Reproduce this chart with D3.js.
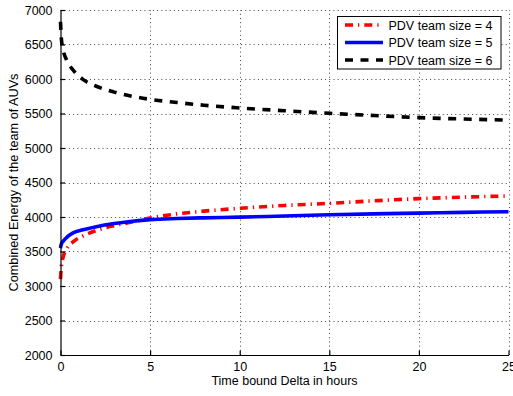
<!DOCTYPE html>
<html>
<head>
<meta charset="utf-8">
<script src="https://cdn.jsdelivr.net/npm/d3@7"></script>
<style>
  html, body { margin: 0; padding: 0; background: #fff; }
  svg { display: block; font-family: "Liberation Sans", Arial, Helvetica, sans-serif; }
</style>
</head>
<body>
<svg id="chart" width="513" height="396"></svg>
<script>
// Time bound (hours) at which each energy value was evaluated
const timeHours = [0, 0.05, 0.15, 0.35, 0.7, 1.25, 2, 3, 4, 5, 6.5, 8, 10, 12.5, 15, 17.5, 20, 22.5, 25];

// Combined energy of the AUV team for each PDV team size
const energySize4 = [3100, 3290, 3420, 3540, 3640, 3725, 3805, 3875, 3928, 3985, 4045, 4085, 4126, 4167, 4198, 4235, 4266, 4288, 4305];
const energySize5 = [3550, 3610, 3650, 3705, 3770, 3815, 3860, 3905, 3938, 3962, 3978, 3988, 3998, 4015, 4032, 4045, 4056, 4067, 4077];
const energySize6 = [6830, 6580, 6420, 6270, 6130, 5995, 5895, 5810, 5750, 5705, 5660, 5620, 5580, 5540, 5503, 5470, 5440, 5420, 5405];

const seriesNames = ["PDV team size = 4", "PDV team size = 5", "PDV team size = 6"];
const xTicks = [0, 5, 10, 15, 20, 25];
const yTicks = [2000, 2500, 3000, 3500, 4000, 4500, 5000, 5500, 6000, 6500, 7000];

const svg = d3.select("#chart");
const plotLeft = 60.5, plotRight = 508.5, plotTop = 10, plotBottom = 355;

const x = d3.scaleLinear().domain([0, 25]).range([plotLeft, plotRight]);
const y = d3.scaleLinear().domain([2000, 7000]).range([plotBottom, plotTop]);

// dotted grid
const grid = svg.append("g").attr("stroke", "#444").attr("stroke-width", 1)
  .attr("stroke-dasharray", "1,3.2").attr("fill", "none");
grid.selectAll("line.v").data(xTicks.filter(d => d > 0)).join("line")
  .attr("class", "v")
  .attr("x1", d => Math.round(x(d)) + 0.5).attr("x2", d => Math.round(x(d)) + 0.5)
  .attr("y1", plotBottom).attr("y2", plotTop);
grid.selectAll("line.h").data(yTicks.filter(d => d > 2000)).join("line")
  .attr("class", "h")
  .attr("x1", plotLeft).attr("x2", plotRight)
  .attr("y1", d => Math.round(y(d)) + 0.5).attr("y2", d => Math.round(y(d)) + 0.5);

// series
const series = [
  { name: seriesNames[0], values: energySize4, color: "#ff0000", dash: "8,5,1.3,5" },
  { name: seriesNames[1], values: energySize5, color: "#0000ff", dash: null },
  { name: seriesNames[2], values: energySize6, color: "#000000", dash: "8,7.5" }
];

const line = d3.line()
  .x((d, i) => x(timeHours[i]))
  .y(d => y(d))
  .curve(d3.curveMonotoneX);

const plot = svg.append("g");
series.forEach(s => {
  plot.append("path")
    .datum(s.values)
    .attr("d", line)
    .attr("fill", "none")
    .attr("stroke", s.color)
    .attr("stroke-width", 3.6)
    .attr("stroke-dasharray", s.dash);
});

// axes with inward ticks
const xAxis = d3.axisBottom(x).tickValues(xTicks).tickFormat(d3.format("d"))
  .tickSizeInner(-4.5).tickSizeOuter(0).tickPadding(7);
const yAxis = d3.axisLeft(y).tickValues(yTicks).tickFormat(d3.format("d"))
  .tickSizeInner(-4.5).tickSizeOuter(0).tickPadding(8);

const gx = svg.append("g").attr("transform", `translate(0,${plotBottom})`).call(xAxis);
const gy = svg.append("g").attr("transform", `translate(${plotLeft},0)`).call(yAxis);
[gx, gy].forEach(g => {
  g.selectAll("text").attr("font-size", 12.5).attr("fill", "#000")
    .attr("font-family", "'Liberation Sans', Arial, Helvetica, sans-serif");
  g.selectAll("path, line").attr("stroke", "#000").attr("stroke-width", 1.2);
});

// axis titles
svg.append("text")
  .attr("x", (plotLeft + plotRight) / 2).attr("y", 385)
  .attr("text-anchor", "middle").attr("font-size", 12.5)
  .text("Time bound Delta in hours");
svg.append("text")
  .attr("transform", `translate(17.5,${(plotTop + plotBottom) / 2}) rotate(-90)`)
  .attr("text-anchor", "middle").attr("font-size", 12.7)
  .text("Combined Energy of the team of AUVs");

// legend
const lg = svg.append("g");
lg.append("rect")
  .attr("x", 337.5).attr("y", 16.5).attr("width", 163.5).attr("height", 52.5)
  .attr("fill", "#fff").attr("stroke", "#000").attr("stroke-width", 1);
series.forEach((s, i) => {
  const yy = 25 + i * 17.5;
  lg.append("line")
    .attr("x1", 345).attr("x2", 383).attr("y1", yy).attr("y2", yy)
    .attr("stroke", s.color).attr("stroke-width", 3.4)
    .attr("stroke-dasharray", s.dash);
  lg.append("text")
    .attr("x", 388.5).attr("y", yy + 4.5)
    .attr("font-size", 12.5)
    .text(s.name);
});
</script>
</body>
</html>
